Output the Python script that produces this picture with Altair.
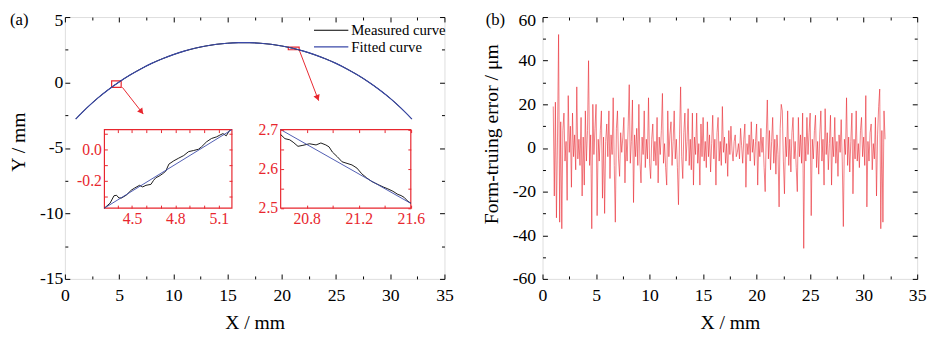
import altair as alt
import pandas as pd

FONT = "Liberation Serif"
RED = "#e8262e"
BLUE = "#3a49a8"
W_A, W_B, H = 387, 382, 267
TICK_FS = 18
INSET_FS = 16

# ---------------- (a) data ----------------
arc_x = list(range(1, 33))
arc_y = [-2.79, -1.96, -1.21, -0.55, 0.04, 0.57, 1.04, 1.46, 1.82, 2.13, 2.40,
         2.62, 2.79, 2.92, 3.00, 3.04, 3.04, 3.00, 2.92, 2.79, 2.62, 2.40, 2.13,
         1.82, 1.46, 1.04, 0.57, 0.04, -0.55, -1.21, -1.96, -2.79]
series_names = ["Measured curve", "Fitted curve"]

# zoom boxes (data coords) and arrows
box_x0 = [4.31, 20.6]
box_x1 = [5.19, 21.6]
box_y0 = [-0.371, 2.5]
box_y1 = [0.125, 2.7]
arrow_x1 = [5.3, 21.6]
arrow_y1 = [-0.37, 2.5]
arrow_x2 = [7.23, 23.4]
arrow_y2 = [-2.41, -1.39]
head_x = [7.06, 23.3]
head_y = [-2.23, -1.18]
ARROW_ANGLES = [142, 159]

# inset 1
ins1_x_domain = [4.31, 5.19]
ins1_y_domain = [-0.371, 0.125]
ins1_meas_x = [4.31, 4.349, 4.376, 4.394, 4.410, 4.428, 4.461, 4.495, 4.517, 4.552,
               4.574, 4.597, 4.631, 4.649, 4.665, 4.687, 4.710, 4.733, 4.755, 4.789,
               4.823, 4.857, 4.891, 4.925, 4.959, 4.981, 5.015, 5.049, 5.083, 5.106,
               5.128, 5.151, 5.174]
ins1_meas_y = [-0.371, -0.340, -0.293, -0.290, -0.307, -0.307, -0.289, -0.258, -0.245,
               -0.227, -0.237, -0.227, -0.221, -0.196, -0.179, -0.169, -0.155, -0.138,
               -0.093, -0.072, -0.055, -0.039, -0.014, -0.007, 0.001, 0.017, 0.048,
               0.069, 0.079, 0.090, 0.100, 0.086, 0.121]
ins1_fit_x = [4.31, 5.19]
ins1_fit_y = [-0.371, 0.125]
ins1_xticks = [4.4, 4.5, 4.6, 4.7, 4.8, 4.9, 5.0, 5.1]
ins1_xlabels = ["4.5", "4.8", "5.1"]
ins1_yticks = [-0.3, -0.2, -0.1, 0.0, 0.1]
ins1_ylabels = ["0.0", "-0.2"]

# inset 2
ins2_x_domain = [20.6, 21.6]
ins2_y_domain = [2.5, 2.7]
ins2_meas_x = [20.6, 20.633, 20.670, 20.696, 20.733, 20.771, 20.821, 20.872, 20.909,
               20.947, 20.972, 20.997, 21.035, 21.072, 21.110, 21.148, 21.186, 21.223,
               21.261, 21.299, 21.349, 21.387, 21.424, 21.462, 21.500, 21.525, 21.550,
               21.575, 21.600]
ins2_meas_y = [2.6875, 2.677, 2.674, 2.668, 2.6575, 2.660, 2.664, 2.661, 2.666, 2.661,
               2.656, 2.643, 2.631, 2.618, 2.614, 2.610, 2.602, 2.5875, 2.577, 2.568,
               2.560, 2.554, 2.549, 2.543, 2.535, 2.532, 2.527, 2.518, 2.5125]
ins2_fit_x = [20.6, 21.6]
ins2_fit_y = [2.7, 2.512]
ins2_xticks = [20.8, 21.0, 21.2, 21.4, 21.6]
ins2_xlabels = ["20.8", "21.2", "21.6"]
ins2_yticks = [2.5, 2.55, 2.6, 2.65, 2.7]
ins2_ylabels = ["2.5", "2.6", "2.7"]

# ---------------- (b) data ----------------
err_x = [round(1.0 + 0.1 * i, 1) for i in range(311)]
err_y = [
    19, -22, 21, -32, 5, 52, -34, 12, -37, 8,
    16, -6, 3, -24, 24, -2, 10, -18, 16, -4,
    6, -10, 28, -5, 4, -8, 14, -22, 5, -17,
    17, -6, 8, 40, -8, 6, -37, 20, -3, 9,
    20, -31, 4, -6, 8, 17, -23, 5, -30, 3,
    11, -4, 17, -14, 6, -3, 23, -8, -34, 9,
    17, -5, -13, 7, -2, 5, 14, -16, 4, -6,
    10, 29, -7, 3, 22, -25, 6, -4, 9, -8,
    20, -6, -16, 5, -3, 17, -9, 4, -5, 23,
    -7, -14, 4, 11, -6, 3, -8, 14, -16, 5,
    -3, 8, 25, -7, 2, -9, -17, 17, -4, 6,
    12, -8, 3, 17, -5, 4, -9, -26, 6, 28,
    -4, -14, 7, 16, -6, 3, 18, -8, 4, -10,
    16, -17, 5, -3, 16, -7, 2, -17, 11, -4,
    14, -6, 3, -9, 12, -4, 6, -11, 2, 15,
    -5, 4, -17, 7, 14, -6, 3, -8, 19, -2,
    5, -7, 2, -13, 8, -3, 10, -1, -6, 3,
    6, -4, -2, 2, -5, 9, 1, -7, 4, 11,
    -18, 2, -3, 6, -6, 12, -2, 4, -8, 3,
    11, -17, 3, -4, 9, -2, 5, -9, -20, 6,
    22, -5, 8, -10, 3, 14, -7, 4, -12, 6,
    -3, -27, 9, 20, 17, -6, -21, 5, -4, 17,
    -8, 4, -11, 7, 14, -5, 3, -9, -20, 14,
    -4, 6, -7, 16, -46, 5, -6, 14, -3, 7,
    16, -31, 4, -5, 8, 15, -9, 3, -12, 6,
    17, -6, 4, -17, 18, -3, 7, -10, 2, 15,
    -17, 5, -4, 14, -7, 3, -13, 6, -2, 13,
    -6, -36, 4, -3, 23, -8, 5, -11, 3, 16,
    -21, 4, -5, 17, -6, 2, -9, 8, 14, -4,
    5, -8, 24, -27, 3, -6, 7, 11, -10, 2,
    -5, 14, -22, 6, 19, 27, -37, 8, -34, 17,
    4]

x_major = [0, 5, 10, 15, 20, 25, 30, 35]
x_minor = [2.5, 7.5, 12.5, 17.5, 22.5, 27.5, 32.5]
ya_major = [-15, -10, -5, 0, 5]
ya_minor = [-12.5, -7.5, -2.5, 2.5]
yb_major = [-60, -40, -20, 0, 20, 40, 60]
yb_minor = [-50, -30, -10, 10, 30, 50]

# inset placement inside panel (a) plot area (pixels)
INS1_RX = [40.3, 170.3]
INS1_RY = [194.8, 114.8]
INS2_RX = [220.0, 352.7]
INS2_RY = [194.8, 114.8]

MINUS = "replace(datum.label, '\u2212', '-')"


def label_expr(labels):
    expr = "''"
    for l in reversed(labels):
        expr = f"abs(datum.value - ({float(l)})) < 1e-6 ? '{l}' : {expr}"
    return expr


def mk_axis(orient, values, tick, labels=False, color="black", size=TICK_FS, gap=3,
            expr=None, zindex=0, offset=0, **extra):
    kw = dict(orient=orient, values=values, domain=False, grid=False, ticks=True,
              tickSize=alt.ExprRef(expr=str(-tick)), tickColor=color, tickWidth=1,
              labels=labels, zindex=zindex, offset=offset, labelFlush=False,
              labelOverlap=False)
    if labels:
        kw.update(labelFont=FONT, labelFontSize=size, labelColor=color,
                  labelPadding=gap + tick)
        if expr:
            kw["labelExpr"] = expr
    kw.update(extra)
    if "title" not in kw:
        kw["title"] = None
    else:
        kw.update(titleFont=FONT, titleFontSize=20, titleFontWeight="normal",
                  titleColor="black")
    return alt.Axis(**kw)


def lin(domain, rng=None):
    if rng is None:
        return alt.Scale(domain=domain, nice=False, zero=False)
    return alt.Scale(domain=domain, range=rng, nice=False, zero=False)


def ghost(df, xf, yf, xs, ys, xa, ya):
    return alt.Chart(df).mark_point(opacity=0).encode(
        x=alt.X(xf, scale=xs, axis=xa), y=alt.Y(yf, scale=ys, axis=ya))


def top_label_shift(top_value):
    return {"condition": {"test": f"datum.value == {top_value}", "value": 4}, "value": 0}


# ---------------- panel (a) ----------------
XA = lin([0, 35])
YA = lin([-15, 5])
ax_xa = mk_axis("bottom", x_major, 5, labels=True, gap=8, expr=MINUS,
                title="X / mm", titleX=W_A / 2, titleY=51, titleBaseline="alphabetic")
ax_ya = mk_axis("left", ya_major, 5, labels=True, gap=2, expr=MINUS,
                labelOffset=top_label_shift(ya_major[-1]),
                title="Y / mm", titleX=-47, titleY=127, titleAngle=-90,
                titleBaseline="middle", titleAlign="center")

meas_df = pd.DataFrame({"x": arc_x, "y": arc_y, "series": series_names[0]})
fit_df = pd.DataFrame({"x": arc_x, "y": arc_y, "series": series_names[1]})
color_enc = alt.Color(
    "series:N",
    scale=alt.Scale(domain=series_names, range=["black", BLUE]),
    legend=alt.Legend(orient="none", legendX=253, legendY=5, title=None,
                      symbolType="stroke", symbolSize=1225, symbolStrokeWidth=1.2,
                      labelFont=FONT, labelFontSize=15, labelColor="black",
                      labelOffset=2, clipHeight=17, rowPadding=0, padding=0,
                      labelLimit=300))

ex = alt.X("x:Q", scale=XA, axis=ax_xa)
ey = alt.Y("y:Q", scale=YA, axis=ax_ya)
meas = alt.Chart(meas_df).mark_line(strokeWidth=1, interpolate="monotone").encode(
    x=ex, y=ey, color=color_enc)
fit = alt.Chart(fit_df).mark_line(strokeWidth=1.2, interpolate="monotone").encode(
    x=ex, y=ey, color=color_enc)

box_df = pd.DataFrame({"x0": box_x0, "x1": box_x1, "y0": box_y0, "y1": box_y1})
boxes = alt.Chart(box_df).mark_rect(fillOpacity=0, stroke=RED, strokeWidth=1.2).encode(
    x=alt.X("x0:Q", scale=XA, axis=ax_xa), x2="x1:Q",
    y=alt.Y("y0:Q", scale=YA, axis=ax_ya), y2="y1:Q")

arrow_df = pd.DataFrame({"ax1": arrow_x1, "ay1": arrow_y1, "ax2": arrow_x2, "ay2": arrow_y2})
arrows = alt.Chart(arrow_df).mark_rule(color=RED, strokeWidth=1).encode(
    x=alt.X("ax1:Q", scale=XA, axis=ax_xa), x2="ax2:Q",
    y=alt.Y("ay1:Q", scale=YA, axis=ax_ya), y2="ay2:Q")

heads = []
for i in range(len(head_x)):
    hdf = pd.DataFrame({"hx": [head_x[i]], "hy": [head_y[i]]})
    heads.append(alt.Chart(hdf).mark_point(shape="triangle-up", filled=True, size=45,
                                           color=RED, opacity=1,
                                           angle=ARROW_ANGLES[i]).encode(
        x=alt.X("hx:Q", scale=XA, axis=ax_xa), y=alt.Y("hy:Q", scale=YA, axis=ax_ya)))

main_a = alt.layer(boxes, arrows, *heads, meas, fit)

ghA1 = ghost(meas_df, "x:Q", "y:Q", XA, YA,
             mk_axis("top", x_major, 5), mk_axis("right", ya_major, 5))
ghA2 = ghost(meas_df, "x:Q", "y:Q", XA, YA,
             mk_axis("bottom", x_minor, 3), mk_axis("left", ya_minor, 3))
ghA3 = ghost(meas_df, "x:Q", "y:Q", XA, YA,
             mk_axis("top", x_minor, 3), mk_axis("right", ya_minor, 3))


def inset(xd, yd, rx, ry, mx, my, fx, fy, xt, xl, yt, yl):
    sx = lin(xd, rx)
    sy = lin(yd, ry)
    off_b = -(H - ry[0])
    off_t = -ry[1]
    off_l = -rx[0]
    off_r = -(W_A - rx[1])
    frame_df = pd.DataFrame({"x0": [xd[0]], "x1": [xd[1]], "y0": [yd[0]], "y1": [yd[1]]})
    frame = alt.Chart(frame_df).mark_rect(fill="white", stroke=RED, strokeWidth=1.2).encode(
        x=alt.X("x0:Q", scale=sx, axis=mk_axis("top", xt, 3, color=RED, zindex=1, offset=off_t)),
        x2="x1:Q",
        y=alt.Y("y0:Q", scale=sy, axis=mk_axis("right", yt, 3, color=RED, zindex=1, offset=off_r)),
        y2="y1:Q")
    axb = mk_axis("bottom", xt, 3, labels=True, color=RED, size=INSET_FS, gap=3,
                  expr=label_expr(xl), zindex=1, offset=off_b)
    axl = mk_axis("left", yt, 3, labels=True, color=RED, size=INSET_FS, gap=3,
                  expr=label_expr(yl), zindex=1, offset=off_l)
    mdf = pd.DataFrame({"x": mx, "y": my})
    fdf = pd.DataFrame({"x": fx, "y": fy})
    m = alt.Chart(mdf).mark_line(color="black", strokeWidth=0.9).encode(
        x=alt.X("x:Q", scale=sx, axis=axb), y=alt.Y("y:Q", scale=sy, axis=axl))
    f = alt.Chart(fdf).mark_line(color=BLUE, strokeWidth=0.9).encode(
        x=alt.X("x:Q", scale=sx, axis=axb), y=alt.Y("y:Q", scale=sy, axis=axl))
    return frame, alt.layer(m, f)


fr1, ln1 = inset(ins1_x_domain, ins1_y_domain, INS1_RX, INS1_RY, ins1_meas_x, ins1_meas_y,
                 ins1_fit_x, ins1_fit_y, ins1_xticks, ins1_xlabels, ins1_yticks, ins1_ylabels)
fr2, ln2 = inset(ins2_x_domain, ins2_y_domain, INS2_RX, INS2_RY, ins2_meas_x, ins2_meas_y,
                 ins2_fit_x, ins2_fit_y, ins2_xticks, ins2_xlabels, ins2_yticks, ins2_ylabels)

lab_a = alt.Chart(pd.DataFrame({"t": ["(a)"]})).mark_text(
    font=FONT, fontSize=17, align="left", baseline="middle", color="black").encode(
    text="t:N", x=alt.value(-56), y=alt.value(3.5))

panel_a = alt.layer(main_a, ghA1, ghA2, ghA3, fr1, ln1, fr2, ln2, lab_a).resolve_scale(
    x="independent", y="independent").properties(width=W_A, height=H)

# ---------------- panel (b) ----------------
XB = lin([0, 35])
YB = lin([-60, 60])
err_df = pd.DataFrame({"x": err_x, "y": err_y})
ax_xb = mk_axis("bottom", x_major, 5, labels=True, gap=8, expr=MINUS,
                title="X / mm", titleX=W_B / 2, titleY=51, titleBaseline="alphabetic")
ax_yb = mk_axis("left", yb_major, 5, labels=True, gap=7, expr=MINUS,
                labelOffset=top_label_shift(yb_major[-1]),
                title="Form-truing error / \u03bcm", titleX=-52, titleY=119, titleAngle=-90,
                titleBaseline="middle", titleAlign="center")
err_line = alt.Chart(err_df).mark_line(color=RED, strokeWidth=0.6).encode(
    x=alt.X("x:Q", scale=XB, axis=ax_xb), y=alt.Y("y:Q", scale=YB, axis=ax_yb))
ghB1 = ghost(err_df, "x:Q", "y:Q", XB, YB,
             mk_axis("top", x_major, 5), mk_axis("right", yb_major, 5))
ghB2 = ghost(err_df, "x:Q", "y:Q", XB, YB,
             mk_axis("bottom", x_minor, 3), mk_axis("left", yb_minor, 3))
ghB3 = ghost(err_df, "x:Q", "y:Q", XB, YB,
             mk_axis("top", x_minor, 3), mk_axis("right", yb_minor, 3))
lab_b = alt.Chart(pd.DataFrame({"t": ["(b)"]})).mark_text(
    font=FONT, fontSize=17, align="left", baseline="middle", color="black").encode(
    text="t:N", x=alt.value(-58), y=alt.value(3.5))

panel_b = alt.layer(err_line, ghB1, ghB2, ghB3, lab_b).resolve_scale(
    x="independent", y="independent").properties(width=W_B, height=H)

chart = alt.hconcat(panel_a, panel_b, spacing=27).resolve_scale(
    color="independent").properties(
    padding={"left": 0, "top": 0, "right": 0, "bottom": 0}).configure_view(
    stroke="black", strokeWidth=1).configure_axis(
    labelFont=FONT, titleFont=FONT).configure_text(font=FONT).configure(
    font=FONT, background="white")

chart.save("out.html", embed_options={"renderer": "svg", "actions": False})
